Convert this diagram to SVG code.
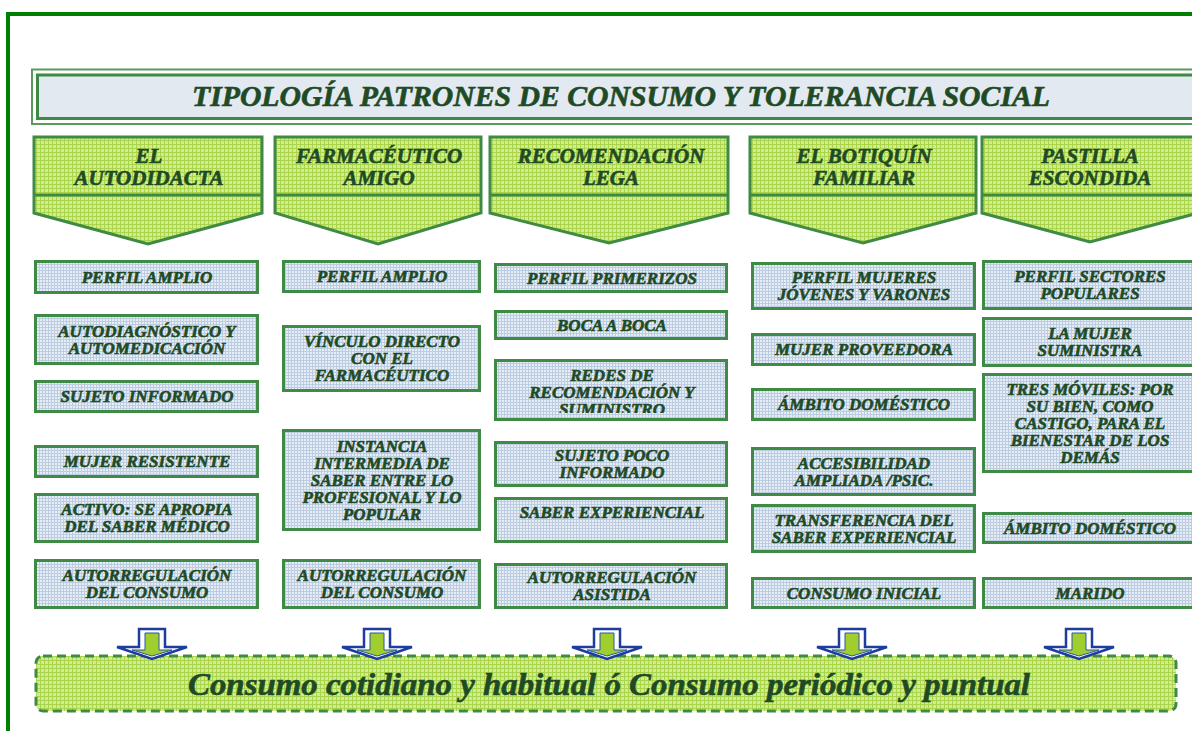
<svg xmlns="http://www.w3.org/2000/svg" width="1192" height="731" viewBox="0 0 1192 731">
<defs>
<pattern id="pg" width="4" height="4" patternUnits="userSpaceOnUse">
<rect width="4" height="4" fill="#cfec92"/>
<rect width="1" height="4" fill="#a9d44c"/>
<rect width="4" height="1" fill="#a9d44c"/>
</pattern>
<pattern id="pb" width="3" height="3" patternUnits="userSpaceOnUse">
<rect width="3" height="3" fill="#e6edf6"/>
<rect width="1" height="3" fill="#bccde2"/>
<rect width="3" height="1" fill="#bccde2"/>
</pattern>
<clipPath id="clipRedes"><rect x="496" y="361" width="230" height="52"/></clipPath>
<g id="arrow">
<path d="M-13,0 H13 V18 H35 L0,30 L-35,18 H-13 Z" fill="#ffffff" stroke="#1c3d9e" stroke-width="2.5" stroke-linejoin="miter"/>
<path d="M-7,4 H7 V21 H20 L0,27 L-20,21 H-7 Z" fill="#9fce2e" stroke="#2b55a8" stroke-width="1"/>
</g>
</defs>
<style>
.frame{fill:none;stroke:#008000;stroke-width:4}
.hdr{fill:url(#pg);stroke:#3f8a44;stroke-width:3;stroke-linejoin:miter}
.div{stroke:#3f8a44;stroke-width:3}
.box{fill:url(#pb);stroke:#3f8a44;stroke-width:3}
.t{font-family:"Liberation Serif","Times New Roman",serif;font-weight:bold;font-style:italic;fill:#1f4a26;stroke:#1f4a26;stroke-width:0.6px;text-anchor:middle}
.bt{font-size:17px}
.ht{font-size:21px}
</style>

<path class="frame" d="M8,731 V14 H1192"/>

<g id="title">
<rect x="32" y="69.5" width="1170" height="54.5" fill="#ffffff" stroke="#5b9a5e" stroke-width="2"/>
<rect x="37.5" y="75" width="1170" height="43.5" fill="#e3e9f0" stroke="#3d8a45" stroke-width="3"/>
<text class="t" x="621" y="106" font-size="29" textLength="858" lengthAdjust="spacingAndGlyphs">TIPOLOGÍA PATRONES DE CONSUMO Y TOLERANCIA SOCIAL</text>
</g>

<g id="head1">
<path class="hdr" d="M34,137 H262 V213 L148,244 L34,213 Z"/>
<line class="div" x1="34" y1="195" x2="262" y2="195"/>
<text class="t ht" x="149" y="163">EL</text>
<text class="t ht" x="149" y="185">AUTODIDACTA</text>
</g>
<g id="head2">
<path class="hdr" d="M275,137 H481 V213 L378,244 L275,213 Z"/>
<line class="div" x1="275" y1="195" x2="481" y2="195"/>
<text class="t ht" x="379" y="163">FARMACÉUTICO</text>
<text class="t ht" x="379" y="185">AMIGO</text>
</g>
<g id="head3">
<path class="hdr" d="M490,137 H728 V213 L609,243 L490,213 Z"/>
<line class="div" x1="490" y1="195" x2="728" y2="195"/>
<text class="t ht" x="611" y="163">RECOMENDACIÓN</text>
<text class="t ht" x="611" y="185">LEGA</text>
</g>
<g id="head4">
<path class="hdr" d="M750,137 H976 V213 L863,243 L750,213 Z"/>
<line class="div" x1="750" y1="195" x2="976" y2="195"/>
<text class="t ht" x="864" y="163">EL BOTIQUÍN</text>
<text class="t ht" x="864" y="185">FAMILIAR</text>
</g>
<g id="head5">
<path class="hdr" d="M982,137 H1198 V213 L1090,242 L982,213 Z"/>
<line class="div" x1="982" y1="195" x2="1198" y2="195"/>
<text class="t ht" x="1090" y="163">PASTILLA</text>
<text class="t ht" x="1090" y="185">ESCONDIDA</text>
</g>

<!-- column 1 -->
<g id="c1b1"><rect class="box" x="35.5" y="261.5" width="222" height="31"/><text class="t bt" x="147" y="282.5">PERFIL AMPLIO</text></g>
<g id="c1b2"><rect class="box" x="35.5" y="315.5" width="222" height="48"/><text class="t bt" x="147" y="336.5">AUTODIAGNÓSTICO Y</text><text class="t bt" x="147" y="353.5">AUTOMEDICACIÓN</text></g>
<g id="c1b3"><rect class="box" x="35.5" y="381.5" width="222" height="30"/><text class="t bt" x="147" y="402">SUJETO INFORMADO</text></g>
<g id="c1b4"><rect class="box" x="35.5" y="446.5" width="222" height="30"/><text class="t bt" x="147" y="467">MUJER RESISTENTE</text></g>
<g id="c1b5"><rect class="box" x="35.5" y="494.5" width="222" height="47"/><text class="t bt" x="147" y="515">ACTIVO: SE APROPIA</text><text class="t bt" x="147" y="532">DEL SABER MÉDICO</text></g>
<g id="c1b6"><rect class="box" x="35.5" y="560.5" width="222" height="47"/><text class="t bt" x="147" y="581">AUTORREGULACIÓN</text><text class="t bt" x="147" y="598">DEL CONSUMO</text></g>

<!-- column 2 -->
<g id="c2b1"><rect class="box" x="283.5" y="261.5" width="196" height="30"/><text class="t bt" x="382" y="282">PERFIL AMPLIO</text></g>
<g id="c2b2"><rect class="box" x="283.5" y="326.5" width="196" height="64"/><text class="t bt" x="382" y="347">VÍNCULO DIRECTO</text><text class="t bt" x="382" y="364">CON EL</text><text class="t bt" x="382" y="381">FARMACÉUTICO</text></g>
<g id="c2b3"><rect class="box" x="283.5" y="430.5" width="196" height="99"/><text class="t bt" x="382" y="451.5">INSTANCIA</text><text class="t bt" x="382" y="468.5">INTERMEDIA DE</text><text class="t bt" x="382" y="485.5">SABER ENTRE LO</text><text class="t bt" x="382" y="502.5">PROFESIONAL Y LO</text><text class="t bt" x="382" y="519.5">POPULAR</text></g>
<g id="c2b4"><rect class="box" x="283.5" y="560.5" width="196" height="47"/><text class="t bt" x="382" y="581">AUTORREGULACIÓN</text><text class="t bt" x="382" y="598">DEL CONSUMO</text></g>

<!-- column 3 -->
<g id="c3b1"><rect class="box" x="495.5" y="264.5" width="231" height="27"/><text class="t bt" x="612" y="283.5">PERFIL PRIMERIZOS</text></g>
<g id="c3b2"><rect class="box" x="495.5" y="311.5" width="231" height="27"/><text class="t bt" x="612" y="330.5">BOCA A BOCA</text></g>
<g id="c3b3"><rect class="box" x="495.5" y="360.5" width="231" height="59"/><g clip-path="url(#clipRedes)"><text class="t bt" x="612" y="380.5">REDES DE</text><text class="t bt" x="612" y="397.5">RECOMENDACIÓN Y</text><text class="t bt" x="612" y="414.5">SUMINISTRO</text></g></g>
<g id="c3b4"><rect class="box" x="495.5" y="442.5" width="231" height="43"/><text class="t bt" x="612" y="461">SUJETO POCO</text><text class="t bt" x="612" y="478">INFORMADO</text></g>
<g id="c3b5"><rect class="box" x="495.5" y="498.5" width="231" height="43"/><text class="t bt" x="612" y="518">SABER EXPERIENCIAL</text></g>
<g id="c3b6"><rect class="box" x="495.5" y="564.5" width="231" height="43"/><text class="t bt" x="612" y="583">AUTORREGULACIÓN</text><text class="t bt" x="612" y="600">ASISTIDA</text></g>

<!-- column 4 -->
<g id="c4b1"><rect class="box" x="752.5" y="263.5" width="222" height="45"/><text class="t bt" x="864" y="283">PERFIL MUJERES</text><text class="t bt" x="864" y="300">JÓVENES Y VARONES</text></g>
<g id="c4b2"><rect class="box" x="752.5" y="334.5" width="222" height="30"/><text class="t bt" x="864" y="355">MUJER PROVEEDORA</text></g>
<g id="c4b3"><rect class="box" x="752.5" y="389.5" width="222" height="30"/><text class="t bt" x="864" y="410">ÁMBITO DOMÉSTICO</text></g>
<g id="c4b4"><rect class="box" x="752.5" y="448.5" width="222" height="46"/><text class="t bt" x="864" y="468.5">ACCESIBILIDAD</text><text class="t bt" x="864" y="485.5">AMPLIADA /PSIC.</text></g>
<g id="c4b5"><rect class="box" x="752.5" y="505.5" width="222" height="46"/><text class="t bt" x="864" y="525.5">TRANSFERENCIA DEL</text><text class="t bt" x="864" y="542.5">SABER EXPERIENCIAL</text></g>
<g id="c4b6"><rect class="box" x="752.5" y="578.5" width="222" height="29"/><text class="t bt" x="864" y="598.5">CONSUMO INICIAL</text></g>

<!-- column 5 -->
<g id="c5b1"><rect class="box" x="983.5" y="261.5" width="220" height="47"/><text class="t bt" x="1090" y="282">PERFIL SECTORES</text><text class="t bt" x="1090" y="299">POPULARES</text></g>
<g id="c5b2"><rect class="box" x="983.5" y="318.5" width="220" height="47"/><text class="t bt" x="1090" y="339">LA MUJER</text><text class="t bt" x="1090" y="356">SUMINISTRA</text></g>
<g id="c5b3"><rect class="box" x="983.5" y="374.5" width="220" height="97"/><text class="t bt" x="1090" y="394.5">TRES MÓVILES: POR</text><text class="t bt" x="1090" y="411.5">SU BIEN, COMO</text><text class="t bt" x="1090" y="428.5">CASTIGO, PARA EL</text><text class="t bt" x="1090" y="445.5">BIENESTAR DE LOS</text><text class="t bt" x="1090" y="462.5">DEMÁS</text></g>
<g id="c5b4"><rect class="box" x="983.5" y="513.5" width="220" height="29"/><text class="t bt" x="1090" y="533.5">ÁMBITO DOMÉSTICO</text></g>
<g id="c5b5"><rect class="box" x="983.5" y="578.5" width="220" height="29"/><text class="t bt" x="1090" y="598.5">MARIDO</text></g>

<g id="result">
<rect x="36" y="656" width="1140" height="55" rx="7" ry="7" fill="url(#pg)" stroke="#3f8a44" stroke-width="3" stroke-dasharray="9,5"/>
<text class="t" x="609" y="695" font-size="31" textLength="842" lengthAdjust="spacingAndGlyphs">Consumo cotidiano y habitual ó Consumo periódico y puntual</text>
</g>

<g id="connectors">
<use href="#arrow" transform="translate(152,629)"/>
<use href="#arrow" transform="translate(377,629)"/>
<use href="#arrow" transform="translate(607,629)"/>
<use href="#arrow" transform="translate(852,629)"/>
<use href="#arrow" transform="translate(1079,629)"/>
</g>
</svg>
